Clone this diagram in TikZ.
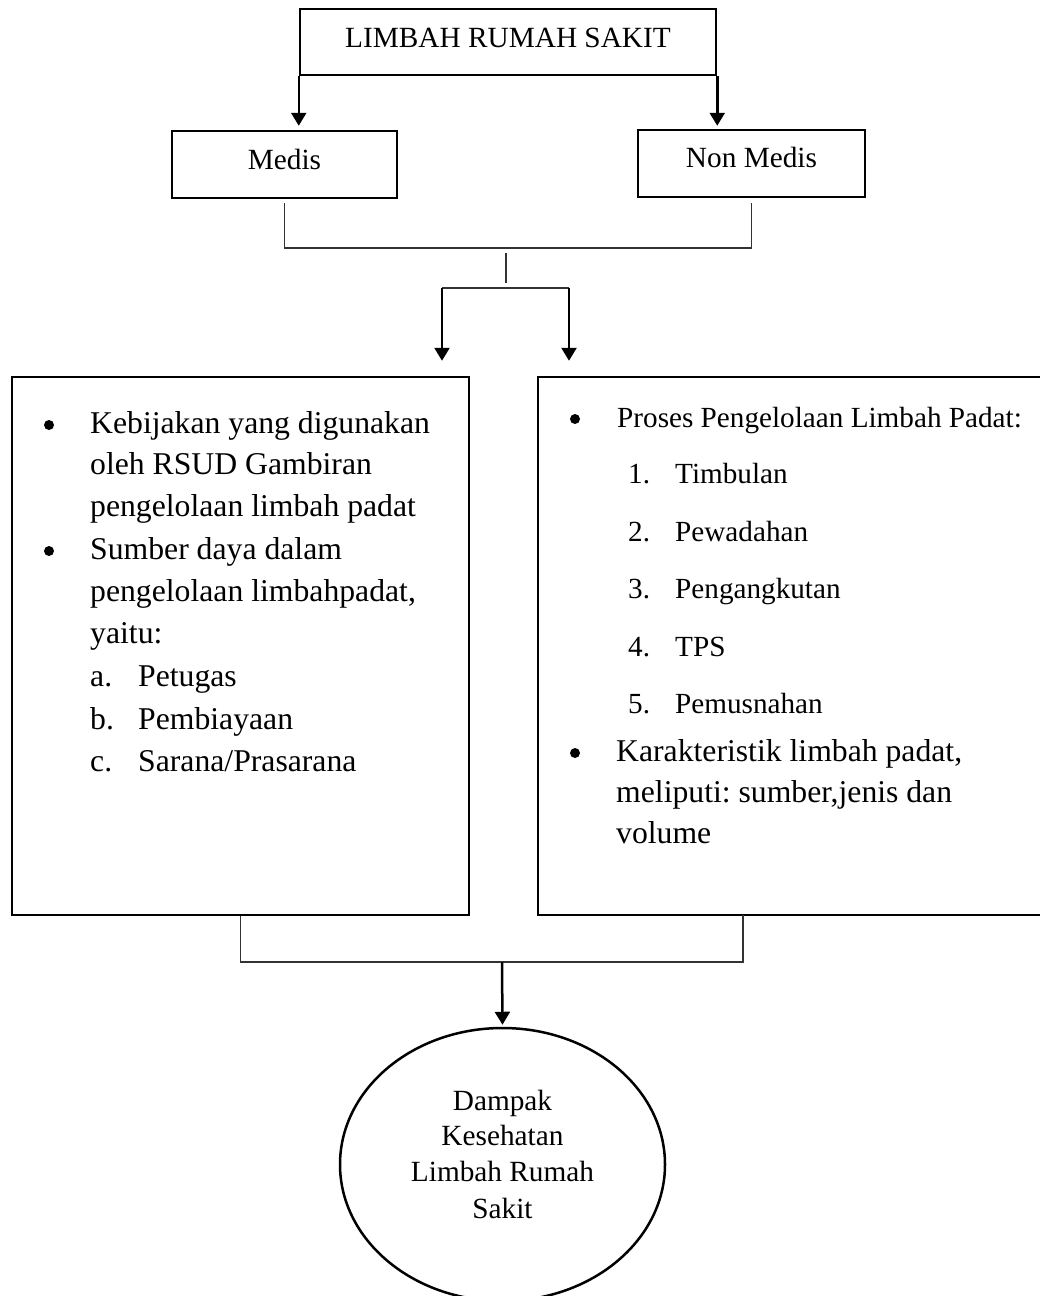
\documentclass[tikz,border=0pt]{standalone}
\usepackage{fontspec}
\setmainfont{Liberation Serif}
\usetikzlibrary{arrows.meta,shapes.geometric}
\frenchspacing
\newcommand\fhdr{\fontsize{29.3}{35}\selectfont\frenchspacing}
\newcommand\fbdy{\fontsize{31.7}{38}\selectfont\frenchspacing}
\newcommand\flst{\fontsize{29.2}{35}\selectfont\frenchspacing}
\begin{document}
\begin{tikzpicture}[x=1pt,y=-1pt,
  boxn/.style={draw,line width=2.5pt,rectangle,inner sep=0pt},
  thinl/.style={line width=1.3pt,draw=black!80},
  arr/.style={line width=2.5pt,-{Triangle[width=15pt,length=13pt]}},
  hdr/.style={inner sep=0pt,anchor=base,font=\fhdr},
  bdy/.style={inner sep=0pt,anchor=base west,font=\fbdy},
  lst/.style={inner sep=0pt,anchor=base west,font=\flst},
  ctr/.style={inner sep=0pt,anchor=base,font=\fhdr},
  bul/.style={circle,fill=black,inner sep=0pt,minimum size=10pt}]
\clip (0,0) rectangle (1040,1296);
\fill[white] (0,0) rectangle (1040,1296);

% header boxes
\node[boxn,minimum width=416pt,minimum height=66pt] (top) at (508,42) {};
\node[hdr] (toptxt) at (508,47) {LIMBAH RUMAH SAKIT};
\node[boxn,minimum width=225pt,minimum height=67pt] (medis) at (284.5,164.5) {};
\node[hdr] (medistxt) at (284.5,169) {Medis};
\node[boxn,minimum width=227pt,minimum height=67pt] (nonmedis) at (751.5,163.5) {};
\node[hdr] (nonmedistxt) at (751.5,167) {Non Medis};

\draw[arr,shorten >=4pt] (top.south west) -- (top.south west |- medis.north);
\draw[arr,shorten >=3pt] (top.south east) -- (top.south east |- nonmedis.north);

% junctions
\coordinate (j1) at (506,248);
\coordinate (j2) at (506,283);
\coordinate (j3l) at (442,288);
\coordinate (j3r) at (569,288);
\draw[thinl] ([yshift=-4pt]medis.south) |- (j1) -| ([yshift=-5pt]nonmedis.south);
\draw[thinl] ([yshift=-5pt]j1) -- (j2);
\draw[thinl] (j3l) -- (j3r);

% big boxes
\node[boxn,minimum width=457pt,minimum height=538pt] (leftbox) at (240.5,646) {};
\node[boxn,minimum width=512pt,minimum height=538pt] (rightbox) at (794,646) {};

\draw[arr,shorten >=15pt] (j3l) -- (j3l |- leftbox.north);
\draw[arr,shorten >=15pt] (j3r) -- (j3r |- rightbox.north);

% left box text
\node[bul] (lb1) at (49,425) {};
\node[bdy] (l1) at (90,433) {Kebijakan yang digunakan};
\node[bdy] (l2) at (90,474) {oleh RSUD Gambiran};
\node[bdy] (l3) at (90,516) {pengelolaan limbah padat};
\node[bul] (lb2) at (49,551) {};
\node[bdy] (l4) at (90,559) {Sumber daya dalam};
\node[bdy] (l5) at (90,601) {pengelolaan limbahpadat,};
\node[bdy] (l6) at (90,643) {yaitu:};
\node[bdy] (la) at (90,686) {a.};
\node[bdy] (l7) at (138,686) {Petugas};
\node[bdy] (lb) at (90,729) {b.};
\node[bdy] (l8) at (138,729) {Pembiayaan};
\node[bdy] (lc) at (90,771) {c.};
\node[bdy] (l9) at (138,771) {Sarana/Prasarana};

% right box text
\node[bul] (rb1) at (575,419) {};
\node[lst] (r1) at (617,427) {Proses Pengelolaan Limbah Padat:};
\node[lst] (n1) at (628,483) {1.};
\node[lst] (r2) at (675,483) {Timbulan};
\node[lst] (n2) at (628,541) {2.};
\node[lst] (r3) at (675,541) {Pewadahan};
\node[lst] (n3) at (628,598) {3.};
\node[lst] (r4) at (675,598) {Pengangkutan};
\node[lst] (n4) at (628,656) {4.};
\node[lst] (r5) at (675,656) {TPS};
\node[lst] (n5) at (628,713) {5.};
\node[lst] (r6) at (675,713) {Pemusnahan};
\node[bul] (rb2) at (575,753) {};
\node[bdy] (r7) at (616,761) {Karakteristik limbah padat,};
\node[bdy] (r8) at (616,802) {meliputi: sumber,jenis dan};
\node[bdy] (r9) at (616,843) {volume};

% bottom
\coordinate (j4) at (502,962);
\coordinate (rfoot) at (743,915);
\draw[thinl] (leftbox.south) |- (j4) -| (rfoot);

\node[draw,ellipse,line width=2.5pt,minimum width=325pt,minimum height=273pt,inner sep=0pt] (dampak) at (502.5,1164.5) {};
\draw[arr,shorten >=2pt] (j4) -- (dampak.north);

\node[ctr] (e1) at (502.5,1110) {Dampak};
\node[ctr] (e2) at (502.5,1145) {Kesehatan};
\node[ctr] (e3) at (502.5,1181) {Limbah Rumah};
\node[ctr] (e4) at (502.5,1218) {Sakit};
\end{tikzpicture}
\end{document}
